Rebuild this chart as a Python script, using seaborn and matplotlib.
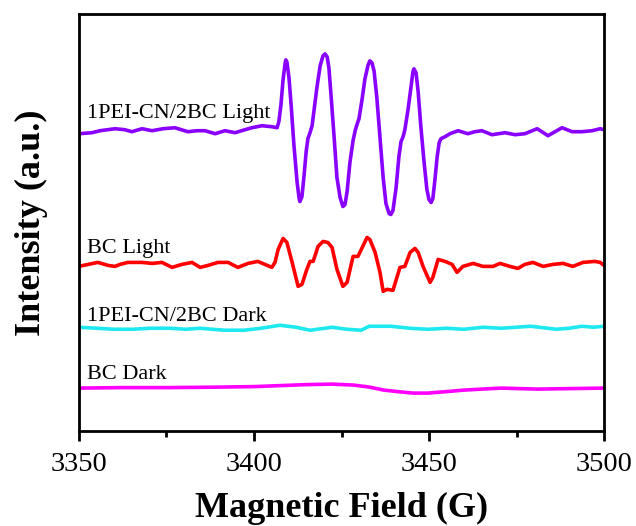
import numpy as np
import pandas as pd
import matplotlib
matplotlib.use("Agg")
import matplotlib.pyplot as plt
import seaborn as sns
from matplotlib.ticker import MultipleLocator

# ---------------- data ----------------
field_pl = [3350.0, 3353.7, 3356.0, 3360.3, 3363.1, 3365.1, 3368.0, 3370.9, 3374.0, 3377.4,
            3381.1, 3383.7, 3386.0, 3388.9, 3391.7, 3394.6, 3397.4, 3399.4, 3402.3, 3405.1,
            3406.6, 3407.1, 3407.7, 3408.3, 3408.9, 3409.1, 3409.4, 3410.0, 3410.6, 3411.4,
            3412.3, 3412.9, 3413.1, 3413.7, 3414.3, 3414.9, 3415.4, 3416.0, 3416.6, 3417.1,
            3418.0, 3418.9, 3419.7, 3420.3, 3420.9, 3421.4, 3422.0, 3422.9, 3423.7, 3424.6,
            3425.4, 3426.0, 3426.6, 3427.4, 3428.3, 3428.9, 3429.4, 3430.0, 3430.9, 3431.7,
            3432.6, 3433.1, 3433.7, 3434.3, 3435.1, 3436.0, 3436.9, 3437.7, 3438.6, 3439.1,
            3439.7, 3440.6, 3441.4, 3442.0, 3442.6, 3443.1, 3444.0, 3444.9, 3445.4, 3445.7,
            3446.3, 3446.9, 3447.7, 3448.6, 3449.4, 3450.0, 3450.6, 3451.1, 3451.7, 3452.3,
            3452.9, 3453.4, 3454.6, 3456.0, 3458.3, 3461.1, 3463.1, 3465.1, 3468.0, 3471.7,
            3474.6, 3477.4, 3480.9, 3484.0, 3488.0, 3490.9, 3493.7, 3496.6, 3498.9, 3500.0]
int_pl = [298, 299, 301, 303, 302, 300, 303, 301, 303, 304,
          300, 301, 301, 298, 301, 299, 302, 304, 306, 305,
          304, 310, 327, 352, 369, 372, 370, 354, 327, 287,
          250, 233, 230, 235, 256, 280, 293, 299, 306, 320,
          345, 366, 376, 378, 375, 364, 337, 294, 254, 234,
          225, 227, 240, 269, 291, 301, 307, 313, 333, 353,
          367, 371, 369, 361, 334, 294, 254, 228, 218, 217,
          221, 244, 275, 290, 295, 302, 322, 346, 360, 363,
          359, 340, 304, 269, 242, 232, 229, 233, 252, 274,
          289, 293, 295, 298, 301, 298, 300, 301, 297, 299,
          297, 298, 303, 296, 304, 300, 300, 301, 303, 302]

field_bl = [3350.0, 3352.6, 3355.4, 3358.3, 3360.3, 3361.7, 3364.0, 3368.0, 3370.9, 3373.7,
            3376.6, 3379.4, 3382.3, 3384.6, 3386.9, 3389.7, 3392.6, 3395.4, 3398.3, 3401.1,
            3403.1, 3405.1, 3406.0, 3406.9, 3408.3, 3409.4, 3410.9, 3412.6, 3413.7, 3415.1,
            3416.0, 3416.9, 3418.3, 3419.7, 3421.1, 3422.3, 3423.7, 3425.4, 3426.6, 3428.3,
            3429.7, 3432.3, 3433.1, 3434.6, 3436.0, 3436.9, 3438.0, 3439.7, 3441.7, 3443.1,
            3444.6, 3446.0, 3446.9, 3448.3, 3450.3, 3451.1, 3452.6, 3454.6, 3456.6, 3458.0,
            3459.7, 3462.6, 3465.4, 3468.3, 3470.3, 3473.1, 3475.4, 3477.4, 3479.7, 3482.6,
            3485.4, 3488.3, 3491.1, 3494.0, 3497.4, 3498.9, 3500.0]
int_bl = [165, 167, 169, 166, 165, 167, 169, 169, 168, 169,
          164, 167, 169, 164, 166, 169, 169, 164, 168, 170,
          167, 164, 169, 182, 193, 189, 169, 145, 147, 162,
          170, 170, 185, 190, 189, 184, 162, 145, 149, 175,
          175, 194, 192, 179, 159, 140, 142, 141, 164, 165,
          179, 183, 179, 165, 149, 154, 172, 170, 167, 159,
          165, 168, 165, 165, 168, 165, 163, 167, 169, 165,
          167, 168, 165, 169, 170, 169, 166]

field_pd = [3350.0, 3355.1, 3360.0, 3365.4, 3370.5, 3376.0, 3380.5, 3384.6, 3388.0, 3391.7,
            3397.1, 3402.0, 3407.4, 3412.0, 3416.0, 3422.3, 3426.5, 3430.6, 3432.9, 3439.1,
            3444.5, 3449.7, 3455.0, 3460.0, 3465.5, 3470.6, 3479.1, 3486.3, 3490.0, 3493.7,
            3497.0, 3500.0]
int_pd = [104, 103, 102, 102, 103, 103, 102, 103, 102, 101,
          101, 103, 106, 104, 101, 104, 102, 101, 105, 105,
          103, 102, 103, 102, 104, 103, 105, 102, 103, 105,
          104, 105]

field_bd = [3350.0, 3362.0, 3375.7, 3390.0, 3400.0, 3407.4, 3415.0, 3422.3, 3428.6, 3433.0,
            3437.1, 3441.0, 3445.4, 3449.7, 3455.0, 3460.0, 3465.0, 3470.6, 3481.1, 3490.0,
            3500.0]
int_bd = [43, 43.5, 43.5, 44, 44.5, 45.5, 46.5, 47, 46, 44,
          41, 39.5, 38, 38, 39.5, 41, 42, 43, 42, 42.5,
          43]

series_names = ["1PEI-CN/2BC Light", "BC Light", "1PEI-CN/2BC Dark", "BC Dark"]
series_fields = [field_pl, field_bl, field_pd, field_bd]
series_ints = [int_pl, int_bl, int_pd, int_bd]
series_colors = ["#8a00ff", "#ff0000", "#1ee8f0", "#ff00ff"]
label_y = [314, 178, 110, 52]

x_ticks = [3350, 3400, 3450, 3500]

# ---------------- plotting ----------------
sns.set_theme(style="ticks")
plt.rcParams["font.family"] = ["Liberation Serif", "DejaVu Serif"]
plt.rcParams["text.color"] = "black"
plt.rcParams["axes.labelcolor"] = "black"
plt.rcParams["xtick.color"] = "black"
plt.rcParams["ytick.color"] = "black"

fig = plt.figure(figsize=(6.36, 5.26), dpi=100)
ax = fig.add_axes([0.1242, 0.1806, 0.8255, 0.7928])

for name, fx, iy, col in zip(series_names, series_fields, series_ints, series_colors):
    df = pd.DataFrame({"field": fx, "intensity": iy})
    sns.lineplot(data=df, x="field", y="intensity", ax=ax, color=col,
                 linewidth=2.6, estimator=None, sort=False)

for name, ly in zip(series_names, label_y):
    ax.text(3352.3, ly, name, fontsize=16, color="black", ha="left", va="baseline")

ax.set_xlim(3350, 3500)
ax.set_ylim(0, 418)
ax.set_xticks(x_ticks)
ax.set_xticklabels([str(t) for t in x_ticks])
ax.xaxis.set_minor_locator(MultipleLocator(25))
ax.set_yticks([])

for sp in ax.spines.values():
    sp.set_visible(True)
    sp.set_linewidth(2.0)
    sp.set_color("black")

ax.tick_params(axis="x", which="major", direction="out", length=7, width=2.0,
               labelsize=20.5, pad=8, colors="black", labelcolor="black")
ax.tick_params(axis="x", which="minor", direction="out", length=4, width=2.0, colors="black")

ax.set_xlabel("Magnetic Field (G)", fontsize=26, fontweight="bold", labelpad=11, color="black")
ax.set_ylabel("Intensity (a.u.)", fontsize=26, fontweight="bold", labelpad=22, color="black")
ax.grid(False)

fig.savefig("out.png", dpi=100, facecolor="white")
